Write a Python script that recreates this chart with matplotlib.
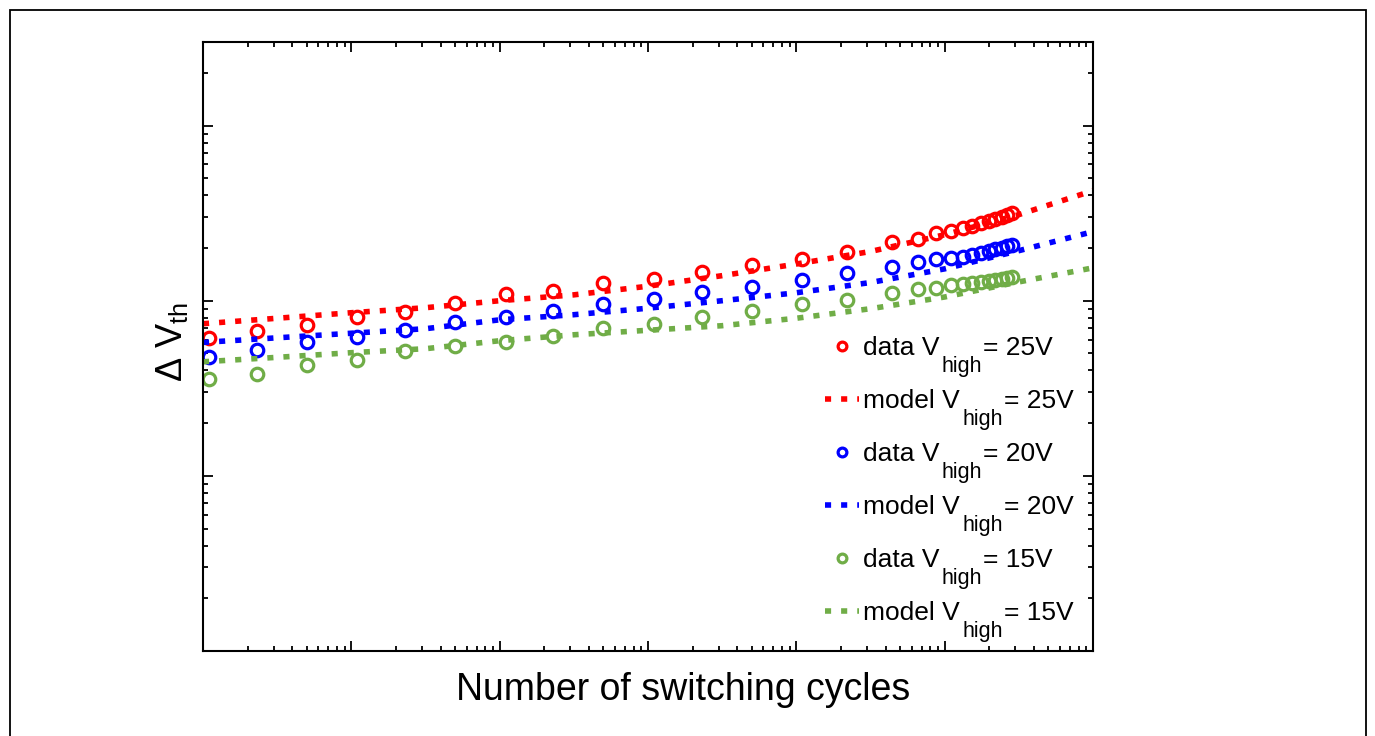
import matplotlib
matplotlib.use("Agg")
import matplotlib.pyplot as plt
from matplotlib.patches import Rectangle
from matplotlib.lines import Line2D

plt.rcParams["font.family"] = ["Liberation Sans", "DejaVu Sans"]
plt.rcParams["mathtext.fontset"] = "custom"
plt.rcParams["mathtext.rm"] = "Liberation Sans"
plt.rcParams["mathtext.it"] = "Liberation Sans:italic"

# Measured threshold-voltage shift versus number of switching cycles
cycles = [1.1, 2.3, 5, 11, 23, 50, 110, 230, 500, 1100, 2300, 5000, 11000,
          22000, 44000, 66000, 88000, 110000, 132000, 154000, 176000,
          198000, 220000, 242000, 264000, 286000]
data_25 = [0.0614, 0.0674, 0.0729, 0.0810, 0.0866, 0.0974, 0.1092, 0.1141,
           0.1256, 0.1330, 0.1464, 0.1600, 0.1731, 0.1888, 0.2154, 0.2253,
           0.2424, 0.2512, 0.2589, 0.2683, 0.2765, 0.2838, 0.2922, 0.2999,
           0.3100, 0.3183]
data_20 = [0.0474, 0.0525, 0.0583, 0.0623, 0.0680, 0.0752, 0.0810, 0.0877,
           0.0957, 0.1023, 0.1126, 0.1191, 0.1313, 0.1432, 0.1553, 0.1655,
           0.1726, 0.1754, 0.1784, 0.1832, 0.1880, 0.1923, 0.1969, 0.2009,
           0.2048, 0.2089]
data_15 = [0.0357, 0.0381, 0.0429, 0.0460, 0.0513, 0.0553, 0.0578, 0.0631,
           0.0698, 0.0736, 0.0803, 0.0869, 0.0957, 0.1013, 0.1104, 0.1166,
           0.1182, 0.1229, 0.1246, 0.1262, 0.1272, 0.1292, 0.1310, 0.1327,
           0.1344, 0.1362]

# Model curves
model_cycles = [1, 3.16, 10, 31.6, 100, 316, 1000, 3160, 1e4, 3.16e4, 1e5,
                3.16e5, 1e6]
model_25 = [0.0739, 0.0794, 0.0854, 0.0912, 0.100, 0.108, 0.121, 0.139,
            0.162, 0.191, 0.238, 0.310, 0.425]
model_20 = [0.0578, 0.0614, 0.0652, 0.0692, 0.0778, 0.0832, 0.0906, 0.100,
            0.111, 0.127, 0.152, 0.193, 0.248]
model_15 = [0.0448, 0.0475, 0.0505, 0.0532, 0.0591, 0.0639, 0.0678, 0.072,
            0.0794, 0.090, 0.105, 0.128, 0.154]

voltages = ["25V", "20V", "15V"]
colors = ["#ff0000", "#0000ff", "#70ad47"]
data_sets = [data_25, data_20, data_15]
model_sets = [model_25, model_20, model_15]

fig = plt.figure(figsize=(13.75, 7.36), dpi=100)
W, H = 1375.0, 736.0

# outer frame around the whole figure
fig.add_artist(Rectangle((10 / W, -0.05), (1366 - 10) / W, (736 - 10) / H + 0.05,
                         transform=fig.transFigure, fill=False,
                         lw=1.3, ec="black"))

ax = fig.add_axes([203 / W, 1 - 651 / H, 890 / W, 609 / H])

dot_style = (0, (1.1, 1.8))
handles, labels = [], []
for vals, mvals, c in zip(data_sets, model_sets, colors):
    ax.plot(cycles, vals, "o", mfc="none", mec=c, ms=9, mew=2.3)
    ax.plot(model_cycles, mvals, color=c, lw=4, ls=dot_style,
            dash_capstyle="butt")
    handles.append(Line2D([], [], ls="none", marker="o", mfc="none", mec=c,
                          ms=9, mew=2.3))
    labels.append("data V")
    handles.append(Line2D([], [], color=c, lw=4, ls=dot_style,
                          dash_capstyle="butt"))
    labels.append("model V")

ax.set_xscale("log")
ax.set_yscale("log")
ax.set_xlim(1, 1e6)
ax.set_ylim(1e-3, 3.0)

for s in ax.spines.values():
    s.set_linewidth(1.5)
ax.tick_params(which="both", direction="in", top=True, right=True,
               labelbottom=False, labelleft=False, width=1.3)
ax.tick_params(which="major", length=7.5)
ax.tick_params(which="minor", length=3.8)

ax.set_xlabel("Number of switching cycles", fontsize=27)
ax.xaxis.set_label_coords(0.539, -0.034)
ax.set_ylabel("Δ V$_{\\mathrm{th}}$", fontsize=26)
ax.yaxis.set_label_coords(-0.015, 0.507)

leg_fs = 19
leg = ax.legend(handles, labels, loc="upper left", bbox_to_anchor=(0.699, 0.517),
                frameon=False, fontsize=leg_fs, handlelength=1.3,
                handletextpad=0.15, labelspacing=1.1, markerscale=0.7,
                borderpad=0, borderaxespad=0)

# subscripted parts of the legend labels
fig.canvas.draw()
r = fig.canvas.get_renderer()
fp = leg.get_texts()[0].get_fontproperties()
_, _, lp_d = r.get_text_width_height_descent("lp", fp, ismath=False)
px = leg_fs * 100 / 72.0
drop = 0.63 * px
sub_fs = 15.5
rests = []
for v in voltages:
    rests += ["= " + v, "= " + v]
for t, rest in zip(leg.get_texts(), rests):
    bb = t.get_window_extent(r)
    base = bb.y0 + lp_d
    ts = fig.text(bb.x1 / W + 2 / W, (base - drop) / H, "high",
                  fontsize=sub_fs, va="baseline", ha="left")
    bb2 = ts.get_window_extent(r)
    fig.text(bb2.x1 / W + 1 / W, base / H, rest, fontsize=leg_fs,
             va="baseline", ha="left")

fig.savefig("out.png", dpi=100)
